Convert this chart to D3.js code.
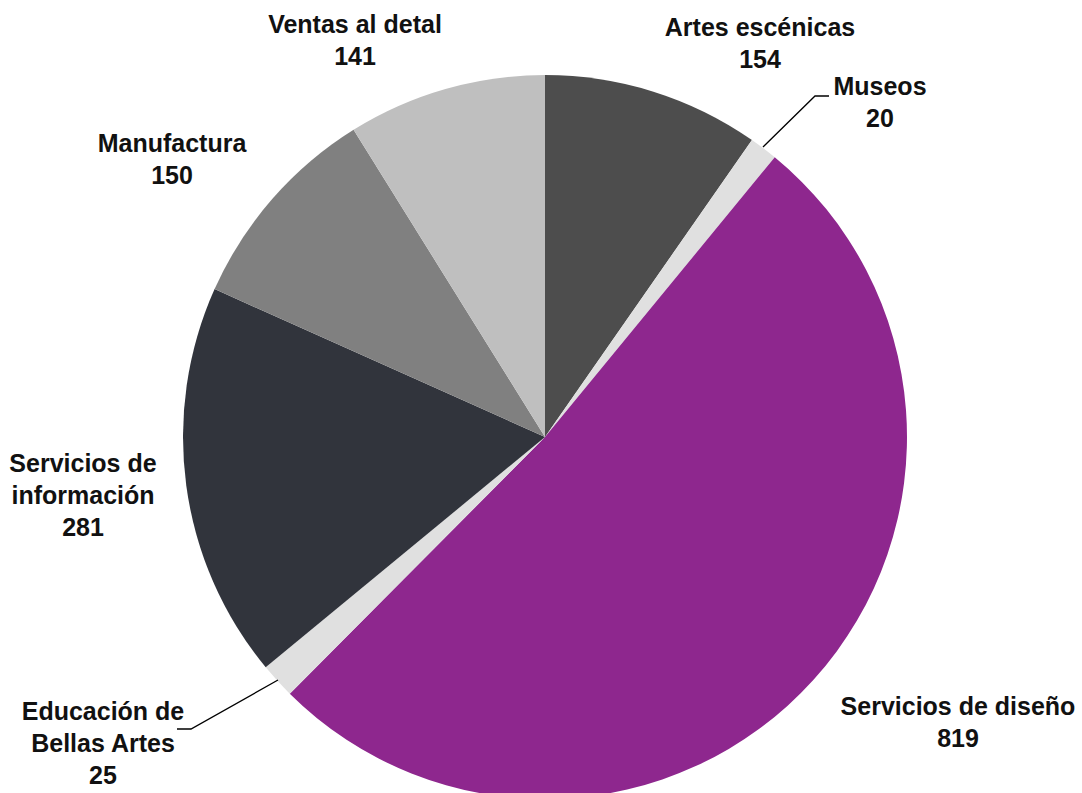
<!DOCTYPE html>
<html><head><meta charset="utf-8">
<script src="https://cdn.jsdelivr.net/npm/d3@7"></script>
<style>body{margin:0;background:#fff}svg{display:block}</style>
</head><body>
<svg id="chart" width="1082" height="793"></svg>
<script>
const categories = ["Artes escénicas","Museos","Servicios de diseño","Educación de Bellas Artes","Servicios de información","Manufactura","Ventas al detal"];
const values = [154, 20, 819, 25, 281, 150, 141];
const labelLines = [["Artes escénicas"],["Museos"],["Servicios de diseño"],["Educación de","Bellas Artes"],["Servicios de","información"],["Manufactura"],["Ventas al detal"]];
const colors = ["#4d4d4d","#e0e0e0","#8e278e","#e0e0e0","#31343c","#808080","#bfbfbf"];

// label layout (center x, first baseline y) and leader lines
const labelLayout = [
  {x:760, y:36},
  {x:880, y:95, leader:[[829,96],[815,96],[763,147]]},
  {x:958, y:715},
  {x:103, y:720, leader:[[177,729],[191,729],[278,680]]},
  {x:83, y:472},
  {x:172, y:152},
  {x:355, y:33}
];

const svg = d3.select("#chart");
const cx = 545, cy = 437, R = 362;
const g = svg.append("g").attr("transform", `translate(${cx},${cy})`);
const pie = d3.pie().sort(null).value(d => d)(values);
const arc = d3.arc().innerRadius(0).outerRadius(R);
g.selectAll("path").data(pie).join("path")
  .attr("d", arc).attr("fill", (d,i) => colors[i])
  .attr("stroke", "none");

const lh = 32;
labelLayout.forEach((L, i) => {
  if (L.leader) {
    svg.append("path").attr("d", d3.line()(L.leader))
      .attr("fill","none").attr("stroke","#000").attr("stroke-width",1.3);
  }
  const t = svg.append("text").attr("text-anchor","middle")
    .attr("font-family","Liberation Sans, Arial, sans-serif")
    .attr("font-weight","bold").attr("font-size",25).attr("fill","#111");
  const lines = labelLines[i].concat([String(values[i])]);
  lines.forEach((s, k) => t.append("tspan").attr("x", L.x).attr("y", L.y + k*lh).text(s));
});
</script>
</body></html>
